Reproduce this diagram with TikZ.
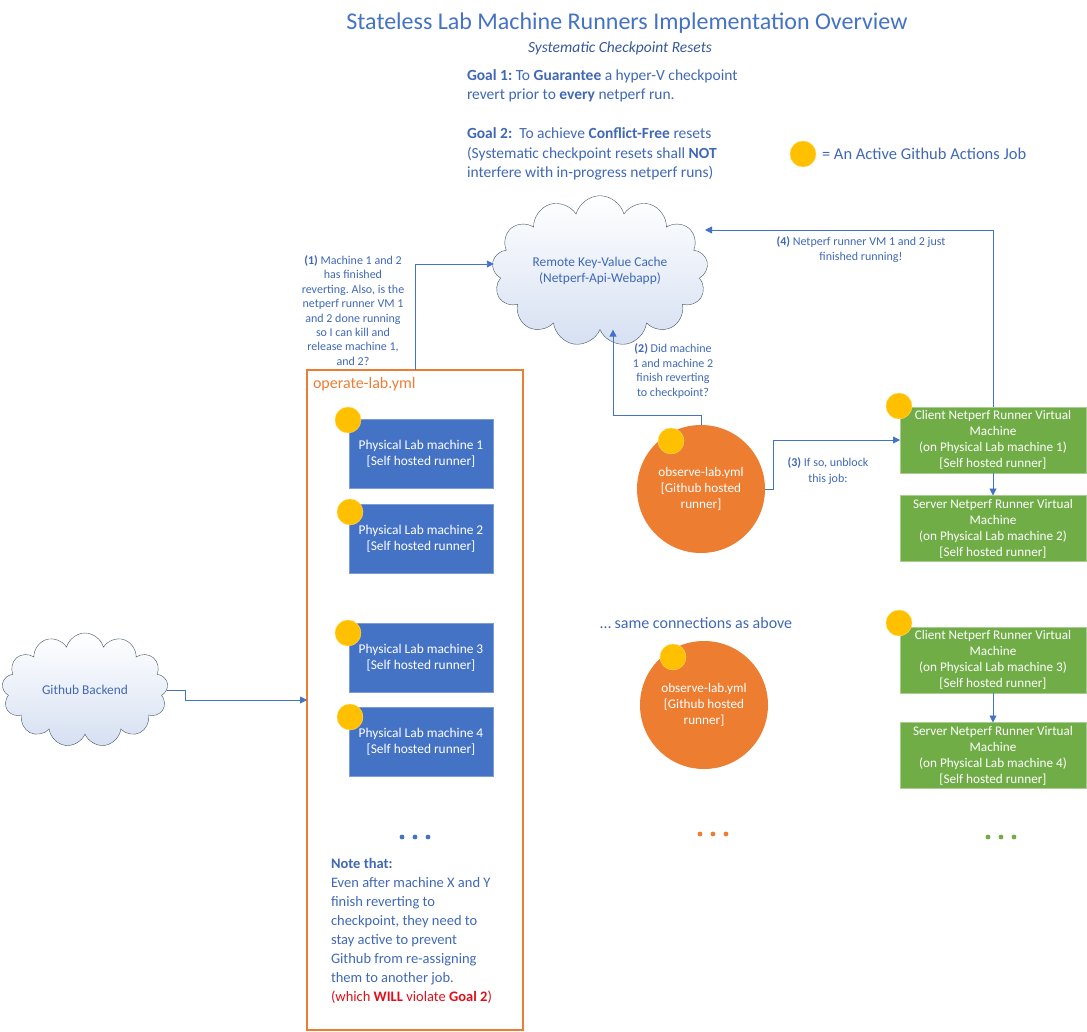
\documentclass[tikz,border=0pt]{standalone}
\usepackage{fontspec}
\setmainfont{Carlito}
\usepackage{tikz}
\usetikzlibrary{positioning}
\usetikzlibrary{shapes.symbols}
\usetikzlibrary{arrows.meta}
\usetikzlibrary{calc}
\frenchspacing

\definecolor{titleblue}{HTML}{4472C4}
\definecolor{txtblue}{HTML}{4068B4}
\definecolor{boxblue}{HTML}{4472C4}
\definecolor{boxgreen}{HTML}{70AD47}
\definecolor{joborange}{HTML}{ED7D31}
\definecolor{jobyellow}{HTML}{FFC000}
\definecolor{cloudline}{HTML}{44546A}
\definecolor{cloudfill}{HTML}{D6E0F2}
\definecolor{warnred}{HTML}{E0101A}

\begin{document}
\begin{tikzpicture}[x=1pt,y=-1pt,
  every node/.style={inner sep=0pt,outer sep=0pt},
  lab/.style={text=txtblue,font=\fontsize{12}{14.4}\selectfont,align=center},
  goal/.style={text=txtblue,font=\fontsize{15.5}{19.2}\selectfont,align=left},
  machine/.style={rectangle,fill=boxblue,draw=boxblue!70!white,text=white,minimum width=144pt,minimum height=69pt,align=center,font=\fontsize{13.4}{16}\selectfont},
  vm/.style={rectangle,fill=boxgreen,draw=boxgreen!60!white,text=white,minimum width=186pt,minimum height=66pt,align=center,font=\fontsize{13.2}{16}\selectfont},
  obs/.style={circle,fill=joborange,text=white,minimum size=128pt,align=center,font=\fontsize{13.2}{16.2}\selectfont},
  job/.style={circle,fill=jobyellow,draw=jobyellow!60!white,minimum size=26pt},
  cachecloud/.style={cloud,cloud puffs=13,aspect=1.6,draw=cloudline,top color=white,bottom color=cloudfill,text=txtblue,align=center,font=\fontsize{13.4}{16}\selectfont},
  conn/.style={draw=boxblue,line width=0.9pt,-{Triangle[width=7pt,length=7pt]}}
]
\useasboundingbox (0,0) rectangle (1087,1032);

% heading
\node[text=titleblue,font=\fontsize{24}{28}\selectfont] (title) at (627,23) {Stateless Lab Machine Runners Implementation Overview};
\node[text=txtblue!85!black,font=\itshape\fontsize{15.5}{18}\selectfont] (subtitle) at (620,48) {Systematic Checkpoint Resets};
\node[goal,anchor=west] (goalone) at (467,86) {\textbf{Goal 1:} To \textbf{Guarantee} a hyper-V checkpoint\\revert prior to \textbf{every} netperf run.};
\node[goal,anchor=west] (goaltwo) at (467,154) {\textbf{Goal 2:}\ \ To achieve \textbf{Conflict-Free} resets\\(Systematic checkpoint resets shall \textbf{NOT}\\interfere with in-progress netperf runs)};

% legend
\node[job] (legenddot) at (803,154) {};
\node[goal,anchor=west,font=\fontsize{16.5}{19}\selectfont] (legendtxt) at (822,154) {= An Active Github Actions Job};

% clouds
\node[cachecloud,minimum width=216pt,minimum height=138pt] (cache) at (600,271) {Remote Key-Value Cache\\(Netperf-Api-Webapp)};
\node[cachecloud,minimum width=166pt,minimum height=114pt] (backend) at (85,690) {Github Backend};

% operate-lab job
\node[draw=joborange,line width=2.5pt,minimum width=216pt,minimum height=660pt] (operate) at (415,700) {};
\node[anchor=west,text=joborange,font=\fontsize{16}{19}\selectfont] (operatelbl) at (313,384) {operate-lab.yml};

\node[machine] (pm1) at (421,453.5) {Physical Lab machine 1\\{[}Self hosted runner{]}};
\node[machine] (pm2) at (421,539) {Physical Lab machine 2\\{[}Self hosted runner{]}};
\node[machine] (pm3) at (421,657.5) {Physical Lab machine 3\\{[}Self hosted runner{]}};
\node[machine] (pm4) at (421,741.5) {Physical Lab machine 4\\{[}Self hosted runner{]}};
\node[job] (pmjob1) at (348,420) {};
\node[job] (pmjob2) at (350,512) {};
\node[job] (pmjob3) at (348,633) {};
\node[job] (pmjob4) at (350,717) {};

% observe-lab jobs
\node[obs] (obs1) at (701,489) {observe-lab.yml\\{[}Github hosted\\runner{]}};
\node[job] (obsjob1) at (671,441) {};
\node[obs] (obs2) at (704,705) {observe-lab.yml\\{[}Github hosted\\runner{]}};
\node[job] (obsjob2) at (673,657) {};
\node[anchor=west,text=txtblue,font=\fontsize{16}{19}\selectfont] (samenote) at (600,623) {\dots\ same connections as above};

% netperf runner VMs
\node[vm] (vm1) at (993,440) {Client Netperf Runner Virtual\\Machine\\(on Physical Lab machine 1)\\{[}Self hosted runner{]}};
\node[vm] (vm2) at (993,528.5) {Server Netperf Runner Virtual\\Machine\\(on Physical Lab machine 2)\\{[}Self hosted runner{]}};
\node[vm] (vm3) at (993,660) {Client Netperf Runner Virtual\\Machine\\(on Physical Lab machine 3)\\{[}Self hosted runner{]}};
\node[vm] (vm4) at (993,755.5) {Server Netperf Runner Virtual\\Machine\\(on Physical Lab machine 4)\\{[}Self hosted runner{]}};
\node[job] (vmjob1) at (899,406) {};
\node[job] (vmjob3) at (899,623) {};

% connections
\coordinate (c4) at (705,230);
\draw[conn] (operate.north) |- ($(cache.west)+(0,-7)$);
\draw[conn] (obs1.north) -- ++(0,-10) -| ($(cache.south)+(13,0)$);
\draw[conn] (obs1.east) -- ++(8,0) |- (vm1.west);
\draw[conn] (vm1.north) |- (c4);
\draw[conn] (vm1.south) -- (vm2.north);
\draw[conn] (vm3.south) -- (vm4.north);
\draw[conn] (backend.east) -- ++(19,0) |- (operate.west);

\node[lab] (lblone) at (353,310.5) {\textbf{(1)} Machine 1 and 2\\has finished\\reverting. Also, is the\\netperf runner VM 1\\and 2 done running\\so I can kill and\\release machine 1,\\and 2?};
\node[lab] (lbltwo) at (673,371) {\textbf{(2)} Did machine\\1 and machine 2\\finish reverting\\to checkpoint?};
\node[lab,font=\fontsize{12}{15.5}\selectfont] (lblthree) at (828,471) {\textbf{(3)} If so, unblock\\this job:};
\node[lab,font=\fontsize{12}{15}\selectfont] (lblfour) at (861,250) {\textbf{(4)} Netperf runner VM 1 and 2 just\\finished running!};

% more of the same
\foreach \dx in {-13,0,13} {
  \fill[boxblue] (415+\dx,837) circle (2.4pt);
  \fill[joborange] (713+\dx,834) circle (2.4pt);
  \fill[boxgreen] (1001+\dx,837) circle (2.4pt);
}

\node[goal,anchor=west,font=\fontsize{14.5}{19.1}\selectfont] (note) at (331,931) {\textbf{Note that:}\\Even after machine X and Y\\finish reverting to\\checkpoint, they need to\\stay active to prevent\\Github from re-assigning\\them to another job.\\{\color{warnred}(which \textbf{WILL} violate \textbf{Goal 2})}};
\end{tikzpicture}
\end{document}
